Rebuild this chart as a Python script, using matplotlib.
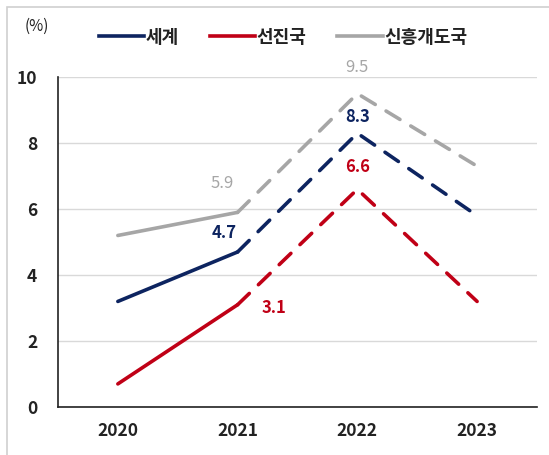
import matplotlib.pyplot as plt
from matplotlib.lines import Line2D
from matplotlib.patches import Rectangle

plt.rcParams['font.family'] = ['Noto Sans CJK KR', 'DejaVu Sans']

years = ['2020', '2021', '2022', '2023']
world = [3.2, 4.7, 8.3, 5.8]
advanced = [0.7, 3.1, 6.6, 3.2]
emerging = [5.2, 5.9, 9.5, 7.3]

series_names = ['세계', '선진국', '신흥개도국']
colors = ['#0d2460', '#c00016', '#a6a6a6']

fig = plt.figure(figsize=(5.49, 4.55), dpi=100)
ax = fig.add_axes([0.1056, 0.1055, 0.8725, 0.725])

x = list(range(len(years)))
lw = 2.6
for vals, c in zip([world, advanced, emerging], colors):
    # actual values solid, forecasts dashed
    ax.plot(x[:2], vals[:2], color=c, lw=lw, solid_capstyle='round')
    ax.plot(x[1:], vals[1:], color=c, lw=lw, dashes=(4.5, 3.5),
            dash_capstyle='round')

ax.set_xlim(-0.5, 3.5)
ax.set_ylim(0, 10)
ax.set_yticks(range(0, 11, 2))
ax.set_xticks(x)
ax.set_xticklabels(years)
ax.tick_params(length=0, labelsize=12.5, pad=11)
ax.tick_params(axis='y', pad=15)
for lab in ax.get_xticklabels() + ax.get_yticklabels():
    lab.set_fontweight('bold')
    lab.set_color('#222222')

ax.grid(axis='y', color='#d9d9d9', lw=1)
ax.set_axisbelow(True)
for s in ['top', 'right']:
    ax.spines[s].set_visible(False)
for s in ['left', 'bottom']:
    ax.spines[s].set_color('#222222')
    ax.spines[s].set_linewidth(1.2)

# value labels
ax.annotate(f'{world[1]}', (1, world[1]), xytext=(-10, 14), textcoords='offset points',
            ha='center', va='center', color=colors[0], fontsize=12, fontweight='bold')
ax.annotate(f'{emerging[1]}', (1, emerging[1]), xytext=(-11, 21), textcoords='offset points',
            ha='center', va='center', color=colors[2], fontsize=12)
ax.annotate(f'{advanced[1]}', (1, advanced[1]), xytext=(26, -2), textcoords='offset points',
            ha='center', va='center', color=colors[1], fontsize=12, fontweight='bold')
ax.annotate(f'{emerging[2]}', (2, emerging[2]), xytext=(0, 19), textcoords='offset points',
            ha='center', va='center', color=colors[2], fontsize=12, annotation_clip=False)
ax.annotate(f'{world[2]}', (2, world[2]), xytext=(0, 12), textcoords='offset points',
            ha='center', va='center', color=colors[0], fontsize=12, fontweight='bold')
ax.annotate(f'{advanced[2]}', (2, advanced[2]), xytext=(0, 16), textcoords='offset points',
            ha='center', va='center', color=colors[1], fontsize=12, fontweight='bold')

fig.text(0.044, 0.942, '(%)', fontsize=11, color='#222222', va='center')

handles = [Line2D([], [], color=c, lw=lw) for c in colors]
fig.legend(handles, series_names, loc='center', bbox_to_anchor=(0.516, 0.918),
           ncol=3, frameon=False, handlelength=2.5, handletextpad=0.1,
           columnspacing=1.7, prop={'size': 13, 'weight': 'bold'})
for t in fig.legends[0].get_texts():
    t.set_color('#222222')

# outer frame
fig.patches.append(Rectangle((7 / 549, -0.1), 1.2, 1.1 - 7 / 455,
                             transform=fig.transFigure, fill=False,
                             edgecolor='#d0d0d0', lw=1.2))

fig.savefig('out.png', dpi=100)
